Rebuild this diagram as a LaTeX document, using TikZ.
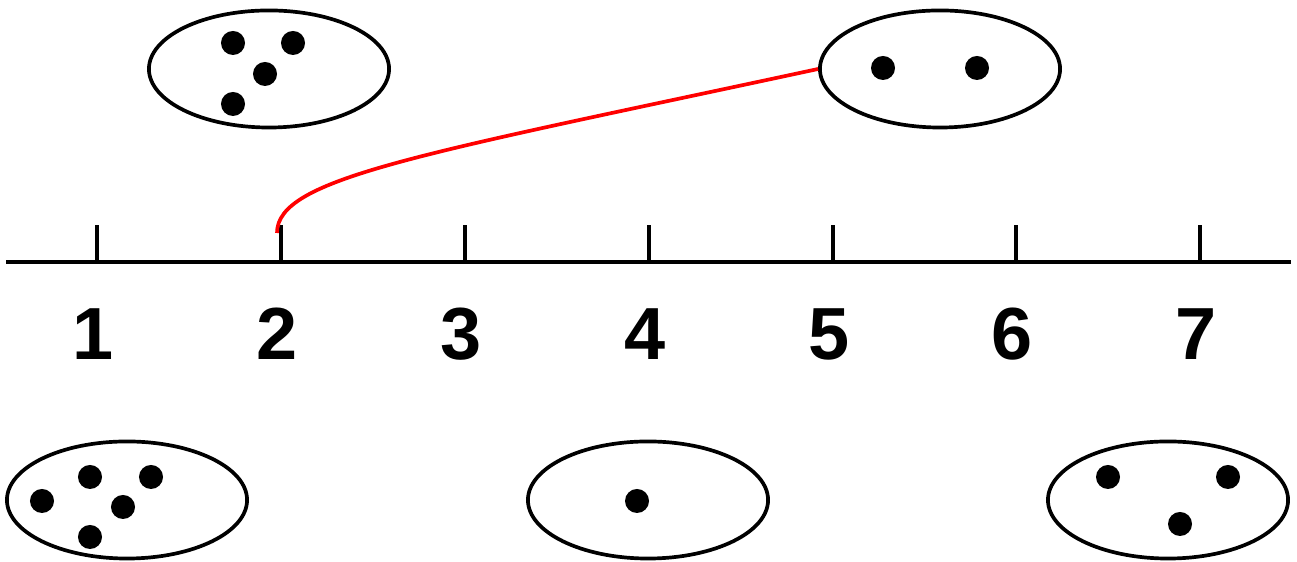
\documentclass[tikz,border=0pt]{standalone}
\usepackage{fontspec}
\setmainfont{Liberation Sans}
\usetikzlibrary{shapes.geometric}
\begin{document}
\begin{tikzpicture}[x=0.01cm,y=-0.01cm,
  setell/.style={draw=black,line width=1.05pt,ellipse,inner sep=0pt,minimum width=2.40cm,minimum height=1.17cm},
  dot/.style={fill=black},
  axisline/.style={line width=1.05pt,black},
  ticklabel/.style={font=\fontsize{21}{24}\selectfont\bfseries,inner sep=0pt,anchor=center},
  link/.style={red,line width=1.05pt}]
\useasboundingbox (0,0) rectangle (1297,562);
% sets
\node[setell] (e1) at (269,69) {};
\node[setell] (e2) at (940,69) {};
\node[setell] (e3) at (127,500) {};
\node[setell] (e4) at (648,500) {};
\node[setell] (e5) at (1168,500) {};
% dots
\foreach \p in {(233,43),(293,43),(265,74),(233,104),
                (883,68),(977,68),
                (42,501),(90,477),(151,477),(123,507),(90,537),
                (637,501),
                (1108,477),(1228,477),(1180,524)}
  \fill[dot] \p circle[radius=0.12cm];
% axis
\coordinate (aL) at (6,262);
\coordinate (aR) at (1291,262);
\draw[axisline] (aL) -- (aR);
\foreach \i/\x in {1/97,2/281,3/465,4/649,5/833,6/1016,7/1200}{
  \coordinate (t\i) at (\x,262);
  \coordinate (tt\i) at (\x,225);
  \draw[axisline] (t\i) -- (tt\i);
  \node[ticklabel] (l\i) at (\x-4,334) {\i};
}
% red connector
\coordinate (rs) at (277,233);
\draw[link] (rs) .. controls (277,178) and (418,155) .. (e2.west);
\end{tikzpicture}
\end{document}
